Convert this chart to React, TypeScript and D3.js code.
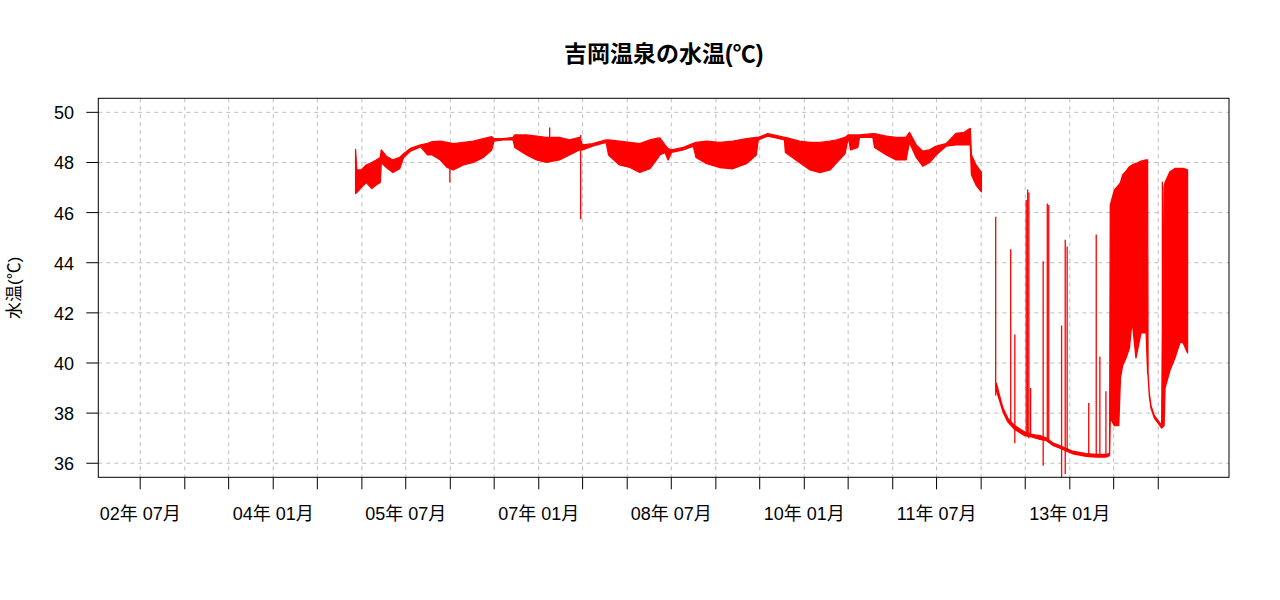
import { useEffect, useRef } from "react";
import * as d3 from "d3";

// 2004年12月〜2012年1月 (upper/lower envelope of the hourly readings)
const segADates = [
  "2004-12-06", "2004-12-11", "2004-12-29", "2005-01-19", "2005-02-11", "2005-03-01", "2005-03-18",
  "2005-03-22", "2005-04-12", "2005-05-09", "2005-06-06", "2005-06-22", "2005-07-20", "2005-08-31",
  "2005-09-30", "2005-10-18", "2005-11-21", "2005-12-19", "2006-01-13", "2006-02-24", "2006-04-06",
  "2006-05-17", "2006-06-21", "2006-06-30", "2006-08-07", "2006-09-17", "2006-09-24", "2006-11-12",
  "2006-12-23", "2007-02-01", "2007-03-27", "2007-05-08", "2007-06-18", "2007-07-01", "2007-08-11",
  "2007-10-06", "2007-10-16", "2007-11-30", "2008-01-12", "2008-02-22", "2008-04-04", "2008-05-01",
  "2008-05-15", "2008-06-05", "2008-06-18", "2008-07-02", "2008-08-20", "2008-09-30", "2008-10-11",
  "2008-11-24", "2009-01-16", "2009-03-12", "2009-05-07", "2009-06-17", "2009-06-25", "2009-08-03",
  "2009-09-20", "2009-10-11", "2009-10-15", "2009-12-12", "2010-01-25", "2010-03-07", "2010-04-17",
  "2010-05-15", "2010-06-18", "2010-07-02", "2010-07-11", "2010-08-10", "2010-08-17", "2010-10-11",
  "2010-10-18", "2010-12-06", "2011-01-15", "2011-02-25", "2011-03-11", "2011-04-08", "2011-05-05",
  "2011-06-02", "2011-06-29", "2011-08-09", "2011-09-19", "2011-10-23", "2011-11-17", "2011-11-22",
  "2011-12-11", "2012-01-02",
];
const segAHigh = [
  48.52, 47.7, 47.7, 47.9, 48.0, 48.1, 48.2,
  48.5, 48.25, 48.1, 48.2, 48.35, 48.56, 48.7,
  48.76, 48.83, 48.85, 48.8, 48.75, 48.8, 48.85,
  48.95, 49.03, 48.95, 48.95, 49.0, 49.1, 49.1,
  49.05, 49.0, 49.0, 48.9, 49.0, 48.7, 48.75,
  48.9, 48.9, 48.85, 48.8, 48.75, 48.9, 48.96,
  48.98, 48.7, 48.55, 48.5, 48.6, 48.76, 48.8,
  48.85, 48.8, 48.85, 48.95, 49.0, 49.0, 49.15,
  49.05, 49.0, 49.0, 48.85, 48.8, 48.8, 48.85,
  48.9, 49.0, 49.1, 49.1, 49.1, 49.1, 49.15,
  49.15, 49.05, 49.0, 49.0, 49.2, 48.7, 48.45,
  48.5, 48.65, 48.75, 49.16, 49.2, 49.36, 48.3,
  47.9, 47.6,
];
const segALow = [
  46.76, 46.8, 47.0, 47.2, 46.96, 47.1, 47.2,
  48.0, 47.8, 47.6, 47.75, 48.2, 48.45, 48.62,
  48.3, 48.3, 48.1, 47.8, 47.7, 47.9, 48.0,
  48.2, 48.5, 48.85, 48.9, 48.9, 48.6, 48.3,
  48.1, 48.0, 48.1, 48.3, 48.5, 48.5, 48.65,
  48.8, 48.3, 47.9, 47.8, 47.6, 47.75, 48.1,
  48.3, 48.4, 48.1, 48.4, 48.5, 48.65, 48.2,
  47.95, 47.8, 47.75, 47.95, 48.3, 48.9, 49.05,
  48.95, 48.9, 48.4, 48.0, 47.7, 47.6, 47.7,
  48.0, 48.35, 49.0, 48.5, 48.6, 49.0, 49.0,
  48.6, 48.3, 48.1, 48.1, 48.8, 48.2, 47.85,
  48.0, 48.3, 48.65, 48.7, 48.7, 48.7, 47.5,
  47.1, 46.83,
];

// 2012年3月〜2014年5月
const segBDates = [
  "2012-03-04", "2012-03-17", "2012-03-31", "2012-04-20", "2012-05-18", "2012-06-29", "2012-07-27",
  "2012-08-31", "2012-09-27", "2012-10-25", "2012-11-21", "2012-12-19", "2013-01-13", "2013-03-10",
  "2013-04-20", "2013-05-31", "2013-06-14", "2013-06-17", "2013-07-04", "2013-07-22", "2013-07-29",
  "2013-08-07", "2013-08-21", "2013-09-04", "2013-09-15", "2013-10-01", "2013-10-22", "2013-11-12",
  "2013-11-18", "2013-11-20", "2013-11-25", "2013-12-02", "2013-12-16", "2014-01-08", "2014-01-15",
  "2014-01-25", "2014-01-29", "2014-02-18", "2014-03-11", "2014-04-01", "2014-04-14", "2014-05-02",
];
const segBHigh = [
  39.2, 38.7, 38.2, 37.8, 37.5, 37.25, 37.15,
  37.1, 37.0, 36.8, 36.7, 36.58, 36.48, 36.38,
  36.35, 36.35, 36.4, 46.3, 46.9, 47.1, 47.2,
  47.5, 47.65, 47.83, 47.9, 47.96, 48.05, 48.1,
  48.1, 39.6, 38.8, 38.3, 37.9, 37.6, 37.55,
  47.03, 47.2, 47.63, 47.76, 47.76, 47.76, 47.7,
];
const segBLow = [
  38.9, 38.5, 38.05, 37.65, 37.35, 37.1, 37.05,
  36.95, 36.9, 36.7, 36.6, 36.48, 36.38, 36.28,
  36.25, 36.25, 36.3, 37.8, 37.5, 37.5, 39.4,
  39.9, 40.2, 40.6, 41.7, 40.2, 41.2, 41.2,
  39.6, 39.5, 38.7, 38.2, 37.8, 37.5, 37.4,
  37.5, 39.0, 39.7, 40.2, 40.83, 40.8, 40.4,
];

// isolated spikes
const spikeDates = [
  "2005-12-30", "2007-02-15", "2007-06-23", "2012-03-01", "2012-05-02", "2012-05-19", "2012-07-05",
  "2012-07-11", "2012-07-16", "2012-07-23", "2012-09-13", "2012-09-30", "2012-10-06", "2012-11-28",
  "2012-12-13", "2012-12-21", "2013-03-20", "2013-04-20", "2013-05-05", "2013-05-30", "2014-01-18",
];
const spikeLow = [
  47.2, 48.5, 45.73, 38.7, 37.6, 36.8, 37.1,
  37.1, 37.0, 37.05, 35.9, 36.9, 36.9, 35.42,
  35.57, 36.5, 36.3, 36.3, 36.3, 36.3, 37.5,
];
const spikeHigh = [
  48.5, 49.4, 49.1, 45.83, 44.54, 41.14, 46.5,
  46.92, 46.8, 39.0, 44.06, 46.36, 46.3, 41.5,
  44.92, 44.65, 38.4, 45.13, 40.26, 38.87, 47.23,
];

const xTicks = [
  "2002-07-01", "2003-01-01", "2003-07-01", "2004-01-01", "2004-07-01", "2005-01-01",
  "2005-07-01", "2006-01-01", "2006-07-01", "2007-01-01", "2007-07-01", "2008-01-01",
  "2008-07-01", "2009-01-01", "2009-07-01", "2010-01-01", "2010-07-01", "2011-01-01",
  "2011-07-01", "2012-01-01", "2012-07-01", "2013-01-01", "2013-07-01", "2014-01-01",
];
const xTickLabels = [
  "02年 07月", "", "", "04年 01月", "", "",
  "05年 07月", "", "", "07年 01月", "", "",
  "08年 07月", "", "", "10年 01月", "", "",
  "11年 07月", "", "", "13年 01月", "", "",
];
const yTicks = [36, 38, 40, 42, 44, 46, 48, 50];

const parse = d3.timeParse("%Y-%m-%d");

export default function App() {
  const ref = useRef<SVGSVGElement>(null);

  useEffect(() => {
    if (!ref.current) return;
    const svg = d3.select(ref.current);
    svg.selectAll("*").remove();

    const width = 1280;
    const height = 600;
    const box = { left: 98.3, right: 1229, top: 98.3, bottom: 477.3 };
    const font = "'Liberation Sans', Arial, 'Noto Sans CJK JP', sans-serif";

    const x = d3
      .scaleTime()
      .domain([parse("2002-01-09")!, parse("2014-10-20")!])
      .range([box.left, box.right]);
    const y = d3.scaleLinear().domain([35.44, 50.56]).range([box.bottom, box.top]);

    svg.append("rect").attr("width", width).attr("height", height).attr("fill", "#fff");

    svg
      .append("text")
      .attr("x", (box.left + box.right) / 2)
      .attr("y", 62)
      .attr("text-anchor", "middle")
      .attr("font-family", font)
      .attr("font-weight", "bold")
      .attr("font-size", 23)
      .text("吉岡温泉の水温(℃)");

    // grid
    const grid = svg.append("g").attr("stroke", "#bebebe").attr("stroke-dasharray", "4,4");
    xTicks.forEach((d) => {
      const px = x(parse(d)!);
      grid.append("line").attr("x1", px).attr("x2", px).attr("y1", box.top).attr("y2", box.bottom);
    });
    yTicks.forEach((v) => {
      grid.append("line").attr("x1", box.left).attr("x2", box.right).attr("y1", y(v)).attr("y2", y(v));
    });

    svg
      .append("defs")
      .append("clipPath")
      .attr("id", "plotclip")
      .append("rect")
      .attr("x", box.left)
      .attr("y", box.top)
      .attr("width", box.right - box.left)
      .attr("height", box.bottom - box.top);

    const plot = svg.append("g").attr("clip-path", "url(#plotclip)");

    const area = d3
      .area<[Date, number, number]>()
      .x((d) => x(d[0]))
      .y0((d) => y(d[2]))
      .y1((d) => y(d[1]));

    const segments: [string[], number[], number[]][] = [
      [segADates, segAHigh, segALow],
      [segBDates, segBHigh, segBLow],
    ];
    segments.forEach(([dates, hi, lo]) => {
      const rows = dates.map((d, i) => [parse(d)!, hi[i], lo[i]] as [Date, number, number]);
      plot
        .append("path")
        .datum(rows)
        .attr("d", area)
        .attr("fill", "#ff0000")
        .attr("stroke", "#ff0000")
        .attr("stroke-width", 1.3)
        .attr("stroke-linejoin", "round");
    });

    plot
      .selectAll("line.spike")
      .data(spikeDates)
      .enter()
      .append("line")
      .attr("class", "spike")
      .attr("x1", (d) => x(parse(d)!))
      .attr("x2", (d) => x(parse(d)!))
      .attr("y1", (_, i) => y(spikeLow[i]))
      .attr("y2", (_, i) => y(spikeHigh[i]))
      .attr("stroke", "#ff0000")
      .attr("stroke-width", 1.3);

    // box
    svg
      .append("rect")
      .attr("x", box.left)
      .attr("y", box.top)
      .attr("width", box.right - box.left)
      .attr("height", box.bottom - box.top)
      .attr("fill", "none")
      .attr("stroke", "#000");

    // x axis
    const xa = svg.append("g");
    xTicks.forEach((d, i) => {
      const px = x(parse(d)!);
      xa.append("line")
        .attr("x1", px)
        .attr("x2", px)
        .attr("y1", box.bottom)
        .attr("y2", box.bottom + 12)
        .attr("stroke", "#000");
      if (xTickLabels[i]) {
        xa.append("text")
          .attr("x", px)
          .attr("y", 520)
          .attr("text-anchor", "middle")
          .attr("font-family", font)
          .attr("font-size", 18)
          .text(xTickLabels[i]);
      }
    });

    // y axis
    const ya = svg.append("g");
    yTicks.forEach((v) => {
      ya.append("line")
        .attr("x1", box.left - 12)
        .attr("x2", box.left)
        .attr("y1", y(v))
        .attr("y2", y(v))
        .attr("stroke", "#000");
      ya.append("text")
        .attr("x", 74)
        .attr("y", y(v) + 7)
        .attr("text-anchor", "end")
        .attr("font-family", font)
        .attr("font-size", 18)
        .text(String(v));
    });

    svg
      .append("text")
      .attr("transform", `translate(20,${(box.top + box.bottom) / 2}) rotate(-90)`)
      .attr("text-anchor", "middle")
      .attr("font-family", font)
      .attr("font-size", 17)
      .text("水温(℃)");
  }, []);

  return (
    <div style={{ position: "absolute", left: 0, top: 0 }}>
      <svg ref={ref} width={1280} height={600} style={{ display: "block" }} />
    </div>
  );
}
